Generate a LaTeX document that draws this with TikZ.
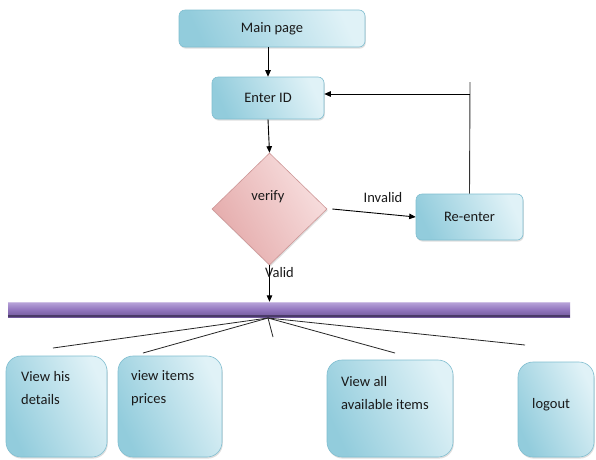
\documentclass[tikz,border=0pt]{standalone}
\usepackage{fontspec}
\setmainfont{Carlito}
\usetikzlibrary{arrows.meta,shapes.geometric,shadows,calc}
\definecolor{boxdark}{RGB}{146,204,220}
\definecolor{boxlight}{RGB}{224,242,247}
\definecolor{boxedge}{RGB}{128,190,208}
\definecolor{pinkdark}{RGB}{228,170,170}
\definecolor{pinklight}{RGB}{248,224,224}
\definecolor{pinkedge}{RGB}{205,150,150}
\definecolor{bartop}{RGB}{185,165,218}
\definecolor{barmid}{RGB}{146,118,190}
\definecolor{barbot}{RGB}{112,88,155}
\definecolor{baredge}{RGB}{74,58,104}
\definecolor{txt}{RGB}{25,25,25}
\begin{document}
\begin{tikzpicture}[x=1pt,y=-1pt,
  every node/.style={font=\fontsize{14.5}{23}\selectfont, text=txt},
  box/.style={draw=boxedge, line width=0.6pt, rounded corners=6pt, inner sep=0pt,
    left color=boxdark, right color=boxlight, shading angle=115,
    drop shadow={opacity=0.25, shadow xshift=0.8pt, shadow yshift=-1.6pt}},
  bigbox/.style={box, rounded corners=15pt},
  dia/.style={diamond, draw=pinkedge, line width=0.6pt, inner sep=0pt,
    left color=pinkdark, right color=pinklight, shading angle=120,
    drop shadow={opacity=0.25, shadow xshift=0.8pt, shadow yshift=-1.6pt}},
  arr/.style={line width=0.9pt, -{Triangle[length=6.5pt,width=5.5pt]}},
  fan/.style={line width=0.8pt, draw=black!85},
  lbl/.style={inner sep=0pt, align=left}]
\useasboundingbox[fill=white] (0,0) rectangle (596,459);

% top flow
\node[box, minimum width=186, minimum height=37] (main) at (272,28.5) {Main page};
\node[box, minimum width=112, minimum height=42] (enter) at (268,98) {Enter ID};
\node[dia, minimum width=115, minimum height=112] (verify) at (269.5,209) {};
\node at (268,197) {verify};
\node[box, minimum width=107, minimum height=46] (reenter) at (469.5,217) {Re-enter};

\draw[arr] (main.south -| enter.north) -- (enter.north);
\draw[arr] (enter.south) -- (verify.north);
\draw[arr] ([xshift=5pt]verify.east) -- (reenter.west);
\node at (383,198) {Invalid};

\coordinate (corner) at (470,94);
\coordinate (tick) at (470,82);
\draw[line width=0.9pt, black!80] (reenter.north) -- (tick);
\draw[arr] (corner) -- (corner -| enter.east);

% bar
\node[draw=none, inner sep=0pt, minimum width=562, minimum height=15,
  top color=bartop, bottom color=barbot, middle color=barmid] (bar) at (289,309.5) {};
\draw[baredge, line width=2.2pt] ([yshift=1.1pt]bar.south west) -- ([yshift=1.1pt]bar.south east);
\draw[bartop!70!white, line width=0.8pt] ([yshift=-0.6pt]bar.north west) -- ([yshift=-0.6pt]bar.north east);

\draw[arr] (verify.south) -- (verify.south |- bar.north);
\node[anchor=west, inner sep=0pt] at (265,273) {Valid};

% fan
\coordinate (hub) at (268,318);
\coordinate (e1) at (53,348);
\coordinate (e2) at (143,353);
\coordinate (e3) at (273,337);
\coordinate (e4) at (395,353);
\coordinate (e5) at (525,345);
\foreach \e in {e1,e2,e3,e4,e5} \draw[fan] (hub) -- (\e);

% bottom boxes
\node[bigbox, minimum width=101, minimum height=101] (b1) at (56.5,406.5) {};
\node[bigbox, minimum width=104, minimum height=101] (b2) at (170,406.5) {};
\node[bigbox, minimum width=126, minimum height=97] (b3) at (390,408.5) {};
\node[bigbox, minimum width=76, minimum height=95] (b4) at (556,409.5) {};

\node[lbl, anchor=west] at (21,388.5) {View his\\details};
\node[lbl, anchor=west] at (131,388.5) {view items\\prices};
\node[lbl, anchor=west] at (341,393.5) {View all\\available items};
\node[lbl, anchor=west] at (532,405) {logout};
\end{tikzpicture}
\end{document}
